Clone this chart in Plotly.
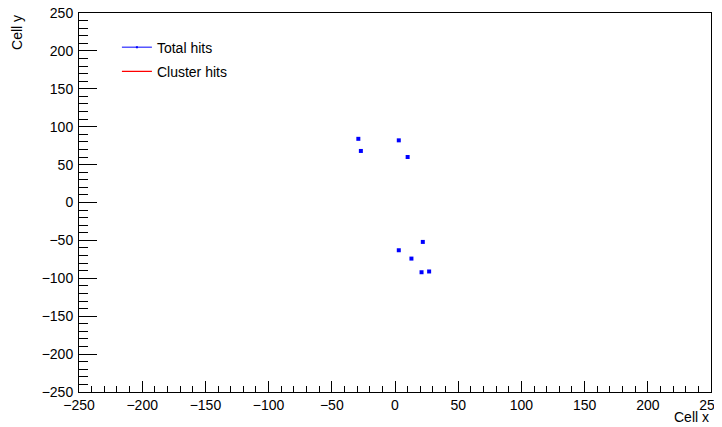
import plotly.graph_objects as go

# Total hits (cell coordinates)
hit_x = [-29, -27, 3, 10, 3, 22, 13, 21, 27]
hit_y = [84, 68, 82, 60, -63, -52, -74, -92, -91]

# Cluster hits (none visible)
cluster_x = []
cluster_y = []

x_range = [-250, 250]
y_range = [-250, 250]

FONT = "Liberation Sans, Arial, Helvetica, sans-serif"

fig = go.Figure()

fig.add_trace(go.Scatter(
    x=hit_x, y=hit_y, mode="markers",
    marker=dict(symbol="square", size=4, color="#0000ff", line=dict(width=0)),
    showlegend=False, hoverinfo="x+y"))

# legend entries
fig.add_trace(go.Scatter(
    x=[None], y=[None], mode="lines+markers", name="Total hits",
    line=dict(color="#0000ff", width=1),
    marker=dict(symbol="square", size=2, color="#0000ff"),
    legendgroup="a"))
fig.add_trace(go.Scatter(
    x=cluster_x if cluster_x else [None], y=cluster_y if cluster_y else [None],
    mode="lines", name="Cluster hits",
    line=dict(color="#ff0000", width=1.3), legendgroup="b"))

axis_common = dict(
    showgrid=False, zeroline=False, showline=True, linecolor="black",
    linewidth=1, mirror=True, ticks="inside", tickcolor="black",
    tickwidth=1, dtick=50, tick0=0, automargin=False,
    ticklabeloverflow="allow",
    tickfont=dict(family=FONT, size=14, color="black"),
)

fig.update_xaxes(range=x_range, ticklen=11,
                 minor=dict(ticks="inside", dtick=10, ticklen=6,
                            tickcolor="black", showgrid=False),
                 **axis_common)
fig.update_yaxes(range=y_range, ticklen=18, ticklabelstandoff=2,
                 minor=dict(ticks="inside", dtick=10, ticklen=9,
                            tickcolor="black", showgrid=False),
                 **axis_common)

fig.add_annotation(text="Cell x", xref="paper", yref="paper", x=1.0, y=-0.066,
                   xanchor="right", yanchor="middle", showarrow=False,
                   font=dict(family=FONT, size=14, color="black"))
fig.add_annotation(text="Cell y", xref="paper", yref="paper", x=-0.099, y=1.0,
                   xanchor="center", yanchor="top", textangle=-90, showarrow=False,
                   font=dict(family=FONT, size=14, color="black"))

# the page body adds an 8px offset; size the figure so the plot frame lands
# at x 79..711, y 13..392 of the 722x427 window
fig.update_layout(
    width=714, height=419,
    margin=dict(l=71, r=11, t=5, b=35, autoexpand=False),
    plot_bgcolor="white", paper_bgcolor="white",
    font=dict(family=FONT, size=14, color="black"),
    legend=dict(x=0.06, y=0.951, xanchor="left", yanchor="top",
                bgcolor="rgba(0,0,0,0)", borderwidth=0,
                itemwidth=30, tracegroupgap=3,
                font=dict(family=FONT, size=14, color="black")),
)

fig.write_html("out.html")
